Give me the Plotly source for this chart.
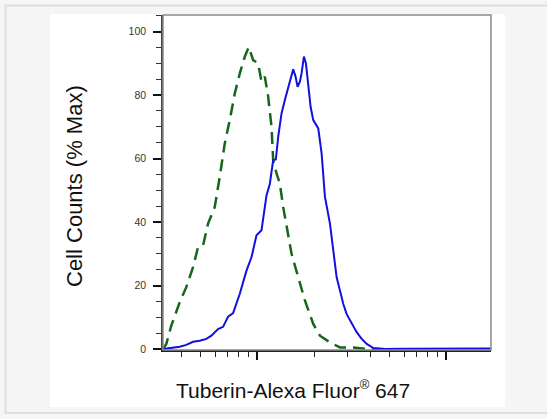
import plotly.graph_objects as go

# Fluorescence intensity (log axis) and % max counts
blue_x = [317.6, 344.4, 389.2, 422.0, 458.0, 496.7, 538.7, 572.7, 621.2, 660.4, 702.0, 746.2,
          809.5, 878.3, 933.3, 992.0, 1054.4, 1120.7, 1167.1, 1215.6, 1255.7, 1292.1, 1345.8,
          1401.5, 1459.8, 1502.0, 1551.6, 1596.5, 1636.0, 1683.1, 1717.9, 1767.4, 1811.4,
          1863.5, 1917.3, 1980.6, 2105.2, 2192.8, 2284.0, 2427.6, 2528.1, 2633.1, 2742.6,
          2856.2, 2974.9, 3162.3, 3361.4, 3572.8, 3797.6, 4118.3, 4654.1, 6000, 8569, 12000, 17246]
blue_y = [0, 0.3, 0.7, 1.3, 2.3, 2.6, 3.2, 4.2, 6.3, 7.0, 10.2, 11.3, 17.4, 24.7, 28.9, 35.8,
          37.4, 48.4, 52.0, 59.5, 59.7, 66.8, 74.2, 78.4, 82.1, 84.7, 88.1, 85.8, 82.6, 84.2,
          86.8, 92.1, 90.0, 83.2, 76.3, 72.1, 69.5, 61.6, 47.9, 39.5, 31.0, 22.6, 18.4, 14.2,
          11.0, 7.9, 5.3, 3.2, 1.6, 0.3, 0, 0.1, 0.2, 0.1, 0.2]

green_x = [317.6, 330.7, 351.5, 389.2, 422.0, 458.0, 486.7, 517.3, 549.9, 596.4, 634.0, 673.9,
           716.4, 761.5, 809.5, 860.5, 903.5, 952.4, 1012.3, 1054.4, 1098.0, 1143.6, 1191.2,
           1215.6, 1266.1, 1318.5, 1373.3, 1430.5, 1520.5, 1649.3, 1789.5, 1980.6, 2148.7,
           2427.6, 2742.6, 3227.2, 3797.6, 5049.9]
green_y = [0, 1.6, 7.4, 14.7, 19.5, 25.8, 32.1, 32.6, 39.5, 44.7, 54.2, 64.7, 72.1, 80.5, 86.8,
           92.1, 95.1, 91.0, 90.0, 84.2, 85.8, 79.5, 70.0, 59.5, 55.3, 52.1, 44.7, 38.4, 30.0,
           22.6, 15.3, 7.9, 4.2, 2.1, 0.5, 0.5, 0, 0]

y_ticks = [0, 20, 40, 60, 80, 100]
x_major = [1000, 10000]
x_minor = [400, 500, 600, 700, 800, 900, 2000, 3000, 4000, 5000, 6000, 7000, 8000, 9000]

x_title = "Tuberin-Alexa Fluor<sup><span style='font-size:13px'>®</span></sup> 647"
y_title = "Cell Counts (% Max)"

fig = go.Figure()
fig.add_trace(go.Scatter(x=green_x, y=green_y, mode="lines",
                         line=dict(color="#16661a", width=2.5, dash="12px,7px"),
                         showlegend=False, hoverinfo="skip"))
fig.add_trace(go.Scatter(x=blue_x, y=blue_y, mode="lines",
                         line=dict(color="#1010e0", width=2),
                         showlegend=False, hoverinfo="skip"))

L, T, W, H = 163, 15, 328, 335


def px(x):
    return (x - L) / W


def py(y):
    return (T + H - y) / H


shapes = [
    dict(type="rect", xref="paper", yref="paper", x0=px(5.5), x1=px(600), y0=py(413), y1=py(5.5),
         line=dict(color="#dedede", width=2), fillcolor="#f5f5f5", layer="below"),
    dict(type="rect", xref="paper", yref="paper", x0=px(50), x1=px(505), y0=py(407), y1=py(14),
         line=dict(width=0), fillcolor="#ffffff", layer="below"),
    dict(type="rect", xref="paper", yref="paper", x0=0, x1=1, y0=0, y1=1,
         line=dict(color="#8a8a8a", width=1.5), layer="above"),
]

fig.update_layout(
    width=547, height=419,
    margin=dict(l=L, r=547 - L - W, t=T, b=419 - T - H),
    paper_bgcolor="#f5f5f5", plot_bgcolor="#ffffff",
    font=dict(family="Liberation Sans, Arial, sans-serif", color="#111111"),
    shapes=shapes,
    xaxis=dict(type="log", range=[2.502, 4.237], tickmode="array", tickvals=x_major,
               showticklabels=False, ticks="outside", ticklen=8, tickwidth=2, tickcolor="#111",
               showgrid=False, zeroline=False, showline=True, linecolor="#222", linewidth=1.5,
               minor=dict(tickmode="array", tickvals=x_minor, ticks="outside", ticklen=5,
                          tickwidth=1.3, tickcolor="#222", showgrid=False)),
    yaxis=dict(range=[-0.3, 105.2], tickmode="array", tickvals=y_ticks,
               ticktext=[str(v) for v in y_ticks], ticks="outside", ticklen=8, tickwidth=2,
               tickcolor="#111", tickfont=dict(size=10.5, color="#333"), ticklabelstandoff=5,
               showgrid=False, zeroline=False, showline=True, linecolor="#444", linewidth=1.5,
               minor=dict(dtick=5, ticks="outside", ticklen=5, tickwidth=1.3,
                          tickcolor="#333", showgrid=False)),
    annotations=[
        dict(text=x_title, xref="paper", yref="paper", x=px(293), y=py(389),
             xanchor="center", yanchor="middle", showarrow=False,
             font=dict(size=21, color="#111")),
        dict(text=y_title, xref="paper", yref="paper", x=px(74), y=py(186),
             xanchor="center", yanchor="middle", showarrow=False, textangle=-90,
             font=dict(size=22, color="#111")),
    ],
)

fig.write_html("out.html", config={"displayModeBar": False},
               post_script="document.body.style.margin='0px';document.body.style.overflow='hidden';")
